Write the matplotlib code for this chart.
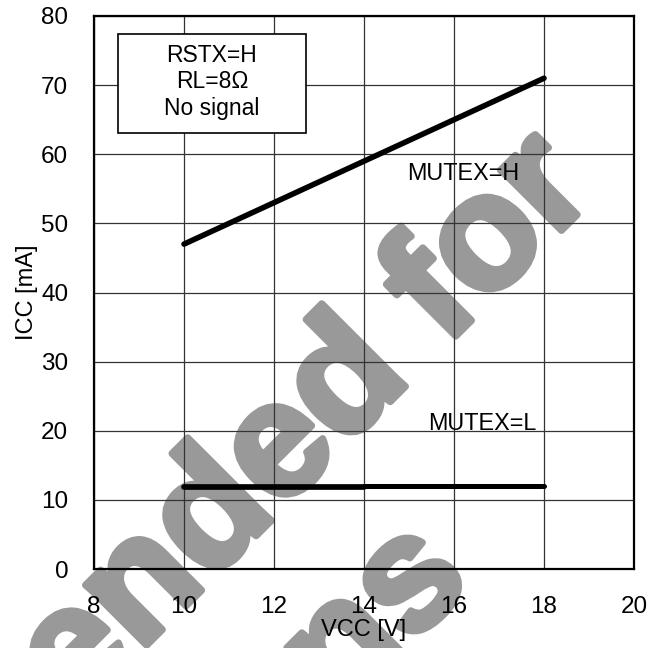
import matplotlib
matplotlib.use("Agg")
import matplotlib.pyplot as plt
from matplotlib.patches import Rectangle
import matplotlib.patheffects as pe

plt.rcParams['font.family'] = ['Liberation Sans', 'DejaVu Sans']

# ---- data ----
vcc_h = [10, 11, 12, 13, 14, 15, 16, 17, 18]
icc_h = [47.0, 50.0, 53.0, 56.0, 59.0, 62.0, 65.0, 68.0, 71.0]

vcc_l_a = [10, 11, 12, 13, 14]
icc_l_a = [11.85, 11.85, 11.85, 11.85, 11.85]
vcc_l_b = [14, 15, 16, 17, 18]
icc_l_b = [12.05, 12.05, 12.05, 12.05, 12.05]

x_ticks = [8, 10, 12, 14, 16, 18, 20]
y_ticks = [0, 10, 20, 30, 40, 50, 60, 70, 80]

cond_lines = ["RSTX=H", "RL=8Ω", "No signal"]
label_h = "MUTEX=H"
label_l = "MUTEX=L"
watermark = ["Not Recommended for", "New Designs"]

# ---- figure ----
W, H = 662, 648
fig = plt.figure(figsize=(W / 100, H / 100), dpi=100)
ax = fig.add_axes([94 / W, 1 - 569 / H, 540 / W, 553 / H])
ax.set_facecolor('none')

# watermark (behind everything)
wm_anchor = [(598, 194), (474, 582)]
for txt, (px, py) in zip(watermark, wm_anchor):
    fig.text(px / W, 1 - py / H, txt, fontsize=117, fontweight='bold',
             color='#999999', rotation=45, rotation_mode='anchor',
             ha='right', va='baseline', zorder=-5,
             path_effects=[pe.withStroke(linewidth=5, foreground='#999999')])

ax.set_xlim(8, 20)
ax.set_ylim(0, 80)
ax.set_xticks(x_ticks)
ax.set_yticks(y_ticks)
ax.grid(True, color='#333333', linewidth=0.9)
ax.set_axisbelow(True)
for s in ax.spines.values():
    s.set_linewidth(1.6)
    s.set_color('black')
ax.tick_params(axis='x', length=0, pad=19.5, labelsize=17.5)
ax.tick_params(axis='y', length=0, pad=18.5, labelsize=17.5)

ax.plot(vcc_h, icc_h, color='black', lw=4.0, solid_capstyle='round', zorder=4)
ax.plot(vcc_l_a, icc_l_a, color='black', lw=4.1, solid_capstyle='round', zorder=4)
ax.plot(vcc_l_b, icc_l_b, color='black', lw=3.6, solid_capstyle='round', zorder=4)

ax.set_xlabel("VCC [V]", fontsize=17, labelpad=1)
ax.set_ylabel("ICC [mA]", fontsize=17, labelpad=2)

ax.text(14.96, 56.3, label_h, fontsize=16.8, ha='left', va='baseline', zorder=5)
ax.text(15.42, 20.1, label_l, fontsize=16.8, ha='left', va='baseline', zorder=5)

# condition box
bx0, by0 = (118 - 94) / 540, (569 - 133) / 553
bx1, by1 = (306 - 94) / 540, (569 - 34) / 553
ax.add_patch(Rectangle((bx0, by0), bx1 - bx0, by1 - by0, transform=ax.transAxes,
                       facecolor='white', edgecolor='black', lw=1.2, zorder=5))
cx = (bx0 + bx1) / 2
for i, line in enumerate(cond_lines):
    yc = (569 - (52.5 + 26.8 * i)) / 553
    ax.text(cx, yc, line, transform=ax.transAxes, fontsize=16.5,
            ha='center', va='center_baseline', zorder=6)

fig.savefig("out.png", dpi=100)
